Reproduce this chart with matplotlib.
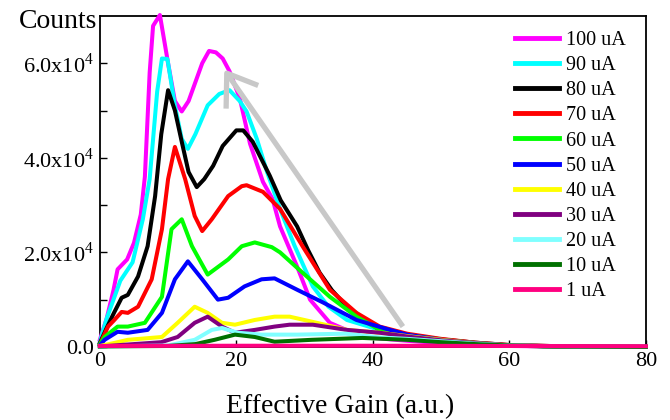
import numpy as np
import matplotlib
matplotlib.use('Agg')
from matplotlib import pyplot as plt
from matplotlib.ticker import FixedLocator, FuncFormatter

# spectra: effective gain (a.u.) vs counts
gain_100 = [0, 1, 2, 2.6, 4, 5, 6, 6.6, 7.3, 7.8, 8.8, 10, 11, 12, 13, 14, 15, 16,
            17, 18, 19, 20.5, 22, 23.9, 25.3, 26.4, 28.9, 30.8, 33.7, 38.5, 45,
            50, 60, 70, 80]
counts_100 = [1500, 6000, 12000, 16400, 18500, 22000, 28000, 36000, 58000, 67900,
              70200, 60000, 52000, 49800, 52000, 56000, 60000, 62600, 62300, 61000,
              58300, 52600, 43000, 34900, 31300, 25500, 17000, 10000, 5100, 2100,
              1300, 800, 200, 50, 0]

gain_90 = [0, 1, 2, 3, 4.8, 6.3, 7.3, 8.4, 9.1, 9.9, 11, 12, 12.9, 14, 15.8, 17.5,
           19, 20.5, 21.5, 23, 24.5, 26.4, 28.5, 31.2, 33.5, 36.2, 41, 45, 50, 55,
           60, 70, 80]
counts_90 = [1000, 6000, 10000, 14000, 17900, 27000, 35500, 54000, 61000, 60900,
             51000, 44000, 41900, 45000, 51100, 53500, 54300, 52000, 49800, 44000,
             37000, 29200, 21500, 12800, 8500, 5700, 3600, 2500, 1500, 800, 300,
             50, 0]

gain_80 = [0, 1, 2, 3.2, 4.1, 5.6, 7, 8.1, 9, 10, 11, 12, 13, 14.2, 15.3, 16.6, 18,
           20, 21, 22.4, 24.9, 26.5, 28.9, 30.5, 32.2, 34, 36.2, 41, 45, 50, 55,
           60, 70, 80]
counts_80 = [800, 4000, 7000, 10400, 11000, 14900, 21300, 31900, 45000, 54300,
             50000, 43400, 37000, 33800, 35500, 38300, 42500, 45800, 45800, 43400,
             36200, 31000, 25500, 20500, 15700, 12000, 8500, 3600, 2600, 1600, 900,
             400, 50, 0]

gain_70 = [0, 1.2, 2, 3.2, 4.1, 5.6, 7.6, 9.1, 10, 11, 12.5, 13.9, 15, 16.4, 18.8,
           20.8, 21.5, 23.9, 26.4, 29.7, 33.7, 37.6, 41, 45, 50, 55, 60, 70, 80]
counts_70 = [500, 4300, 5500, 7400, 7200, 8500, 14300, 24900, 35500, 42300, 35500,
             27700, 24500, 27000, 31900, 34000, 34200, 32800, 29200, 21300, 12100,
             7200, 4300, 2800, 1700, 900, 400, 50, 0]

gain_60 = [0, 0.7, 2.6, 4.1, 6.6, 9.1, 10.5, 12, 13.5, 15.8, 18.8, 20.8, 22.7, 25.2,
           26.4, 29.7, 33.7, 37.6, 41, 45, 50, 55, 60, 70, 80]
counts_60 = [500, 2100, 4300, 4300, 5100, 10600, 24900, 27000, 21300, 15300, 18500,
             21300, 22100, 21100, 20000, 15700, 10600, 6400, 3600, 2500, 1500, 800,
             300, 50, 0]

gain_50 = [0, 0.7, 2.6, 4.1, 7, 9.1, 11, 12.9, 15, 17.3, 18.8, 21.2, 23.7, 25.6,
           28.9, 32.7, 37.6, 42.5, 45, 50, 55, 60, 70, 80]
counts_50 = [300, 1500, 3200, 3000, 3600, 7200, 14300, 18100, 14300, 10000, 10400,
             12800, 14300, 14500, 12100, 9400, 5700, 3600, 2600, 1500, 800, 300, 50, 0]

gain_40 = [0, 2, 4.1, 9.1, 11.4, 13.9, 15.8, 17.9, 19.8, 22.7, 25.6, 27.8, 31.8,
           36.2, 41, 45, 50, 55, 60, 70, 80]
counts_40 = [200, 800, 1500, 2100, 5100, 8500, 7200, 5100, 4700, 5700, 6400, 6400,
             5100, 3600, 3000, 2300, 1500, 800, 300, 50, 0]

gain_30 = [0, 4, 9, 11.4, 13.9, 15.8, 17.9, 19.8, 22.7, 25.6, 27.8, 31.2, 36.2, 41,
           45, 50, 55, 60, 70, 80]
counts_30 = [100, 500, 1000, 2100, 5100, 6400, 4300, 3000, 3600, 4300, 4700, 4700,
             3600, 3000, 2200, 1400, 800, 300, 50, 0]

gain_20 = [0, 10, 13.9, 16.4, 17.9, 20.2, 23.7, 28.9, 36, 41, 45, 50, 55, 60, 70, 80]
counts_20 = [100, 300, 1500, 3600, 4000, 3000, 2600, 2600, 2800, 2000, 1700, 1200,
             700, 300, 50, 0]

gain_10 = [0, 10, 14, 16.8, 19.8, 22.7, 25.6, 31, 38.5, 45, 50, 55, 60, 65, 80]
counts_10 = [100, 200, 600, 1500, 2600, 2100, 1100, 1500, 1900, 1500, 1000, 600,
             300, 100, 0]

gain_1 = [0, 20, 40, 60, 80]
counts_1 = [200, 250, 250, 200, 150]

labels = ['100 uA', '90 uA', '80 uA', '70 uA', '60 uA', '50 uA', '40 uA',
          '30 uA', '20 uA', '10 uA', '1 uA']
colors = ['#ff00ff', '#00ffff', '#000000', '#ff0000', '#00ff00', '#0000ff',
          '#ffff00', '#800080', '#80ffff', '#007000', '#ff0080']

# grey trend arrow (data coords)
arrow_tail = (44.4, 4300)
arrow_tip = (18.6, 57900)
arrow_head_a = (18.5, 50400)
arrow_head_b = (23.2, 55300)

y_major = [0, 20000, 40000, 60000]
y_tick_labels = ['0.0', r'2.0x10$^4$', r'4.0x10$^4$', r'6.0x10$^4$']
y_minor = [10000, 30000, 50000]
x_major = [0, 20, 40, 60, 80]


if __name__ == '__main__':

    plt.rcParams['font.family'] = ['Liberation Serif', 'DejaVu Serif']
    plt.rcParams['mathtext.fontset'] = 'custom'
    plt.rcParams['mathtext.rm'] = 'Liberation Serif'

    fig = plt.figure(figsize=(6.7, 4.2), dpi=100)
    ax = fig.add_axes([0.149, 0.174, 0.815, 0.788])

    series = [(gain_100, counts_100), (gain_90, counts_90), (gain_80, counts_80),
              (gain_70, counts_70), (gain_60, counts_60), (gain_50, counts_50),
              (gain_40, counts_40), (gain_30, counts_30), (gain_20, counts_20),
              (gain_10, counts_10), (gain_1, counts_1)]
    for (gx, cy), label, color in zip(series, labels, colors):
        ax.plot(gx, cy, color=color, lw=2.9, label=label,
                solid_joinstyle='round', clip_on=False, zorder=3)

    # arrow showing the trend
    grey = '#c8c8c8'
    ax.plot([arrow_tail[0], arrow_tip[0]], [arrow_tail[1], arrow_tip[1]],
            color=grey, lw=3.8, solid_capstyle='butt', zorder=4)
    ax.plot([arrow_head_a[0], arrow_tip[0], arrow_head_b[0]],
            [arrow_head_a[1], arrow_tip[1], arrow_head_b[1]],
            color=grey, lw=3.8, solid_capstyle='butt', zorder=4)

    ax.set_xlim(0, 80)
    ax.set_ylim(0, 70000)

    ax.yaxis.set_major_locator(FixedLocator(y_major))
    ax.yaxis.set_major_formatter(FuncFormatter(
        lambda v, pos: y_tick_labels[y_major.index(int(round(v)))]
        if int(round(v)) in y_major else ''))
    ax.yaxis.set_minor_locator(FixedLocator(y_minor))
    ax.xaxis.set_major_locator(FixedLocator(x_major))

    ax.tick_params(which='both', direction='in', top=False, right=False,
                   labelsize=16, width=1.0, pad=4)
    ax.tick_params(which='major', length=5)
    ax.tick_params(which='minor', length=5)
    for sp in ax.spines.values():
        sp.set_linewidth(1.3)

    ax.set_xlabel('Effective Gain (a.u.)', fontsize=20)
    ax.xaxis.set_label_coords(0.44, -0.143)
    ax.annotate('Counts', xy=(0, 1), xycoords='axes fraction',
                xytext=(-2, -4), textcoords='offset points',
                ha='right', va='center', fontsize=20)

    leg = ax.legend(loc='upper left', bbox_to_anchor=(0.760, 0.955),
                    frameon=False, fontsize=14.5, handlelength=2.2,
                    handletextpad=0.35, labelspacing=0.30, borderpad=0,
                    borderaxespad=0)
    for line in leg.get_lines():
        line.set_linewidth(3.5)

    plt.savefig('out.png', dpi=100)
    plt.close()
